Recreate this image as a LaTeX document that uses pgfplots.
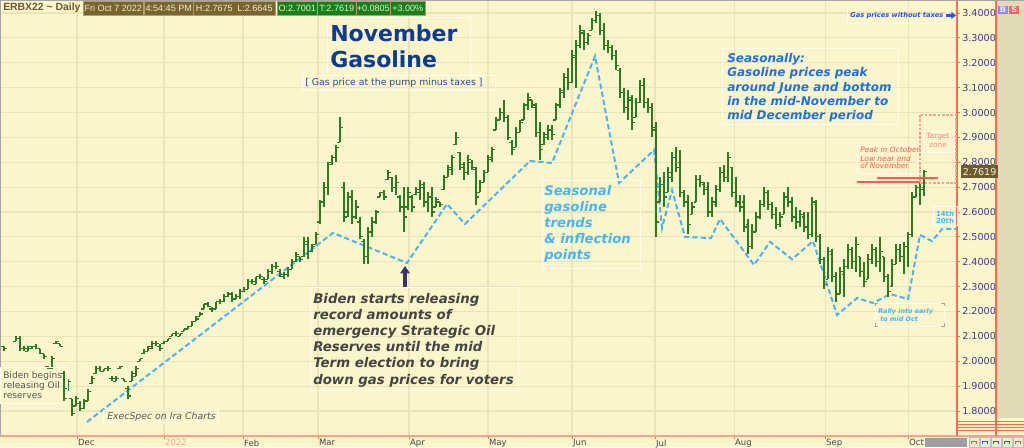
\documentclass[border=0pt]{standalone}
\usepackage{fontspec}
\setmainfont{DejaVu Sans}
\newfontfamily\lib{Liberation Sans}
\usepackage{pgfplots}
\pgfplotsset{compat=1.18}
\usepackage{pgfplotstable}
\usetikzlibrary{arrows.meta}

\definecolor{bg}{RGB}{250,245,202}
\definecolor{gridc}{RGB}{236,228,184}
\definecolor{barc}{RGB}{44,122,36}
\definecolor{seas}{RGB}{77,179,245}
\definecolor{seastxt}{RGB}{69,181,255}
\definecolor{redax}{RGB}{255,106,85}
\definecolor{salm}{RGB}{245,163,140}
\definecolor{redl}{RGB}{255,90,90}
\definecolor{labc}{RGB}{60,60,140}
\definecolor{monc}{RGB}{70,70,70}
\definecolor{c2022}{RGB}{240,168,152}
\definecolor{titc}{RGB}{13,59,148}
\definecolor{subc}{RGB}{30,78,163}
\definecolor{seablue}{RGB}{31,111,229}
\definecolor{bidc}{RGB}{68,68,68}
\definecolor{grayt}{RGB}{90,90,90}
\definecolor{gasblue}{RGB}{42,85,224}
\definecolor{tagc}{RGB}{110,92,48}
\definecolor{tagtxt}{RGB}{245,240,208}
\definecolor{hdrbox}{RGB}{119,100,47}
\definecolor{hdrline}{RGB}{176,160,112}
\definecolor{hdrtxt}{RGB}{243,236,200}
\definecolor{hdrgreen}{RGB}{23,128,26}
\definecolor{hdrtitle}{RGB}{106,90,42}
\definecolor{panel}{RGB}{224,220,184}
\definecolor{targ}{RGB}{245,138,128}
\definecolor{boxc}{RGB}{255,252,235}

\newcommand{\fs}[1]{\fontsize{#1}{#1}\selectfont}

\pgfdeclareplotmark{otick}{\pgfpathmoveto{\pgfqpoint{-1.9pt}{0pt}}\pgfpathlineto{\pgfqpoint{0pt}{0pt}}\pgfusepathqstroke}
\pgfdeclareplotmark{ctick}{\pgfpathmoveto{\pgfqpoint{0pt}{0pt}}\pgfpathlineto{\pgfqpoint{1.9pt}{0pt}}\pgfusepathqstroke}

\pgfplotstableread{
d h l o c
0 2.07 2.04 2.05 2.06
1 2.06 2.04 2.06 2.05
4 2.10 2.08 2.08 2.09
5 2.10 2.04 2.09 2.05
6 2.06 2.04 2.05 2.05
7 2.06 2.04 2.04 2.06
8 2.06 2.05 2.05 2.06
9 2.07 2.05 2.06 2.05
10 2.05 2.03 2.05 2.03
11 2.03 2.01 2.03 2.02
12 1.98 1.97 1.98 1.97
13 2.02 1.97 1.97 2.01
14 2.08 2.07 2.07 2.08
15 2.07 2.06 2.07 2.06
16 1.96 1.84 1.95 1.85
17 1.93 1.88 1.89 1.92
18 1.85 1.78 1.85 1.79
19 1.86 1.82 1.82 1.85
20 1.84 1.80 1.83 1.81
21 1.85 1.81 1.81 1.84
22 1.89 1.84 1.84 1.88
23 1.94 1.91 1.91 1.93
24 1.98 1.95 1.95 1.97
25 1.98 1.96 1.97 1.96
26 1.97 1.96 1.96 1.97
27 1.98 1.96 1.97 1.97
28 1.94 1.92 1.93 1.93
29 1.94 1.92 1.92 1.93
30 1.98 1.97 1.97 1.98
31 1.93 1.92 1.93 1.92
32 1.90 1.85 1.89 1.86
33 1.96 1.92 1.92 1.95
34 1.98 1.94 1.94 1.97
35 2.01 2.00 2.00 2.01
36 2.05 2.03 2.03 2.04
37 2.06 2.04 2.04 2.06
38 2.08 2.05 2.05 2.07
39 2.08 2.06 2.07 2.07
40 2.07 2.04 2.06 2.05
41 2.08 2.07 2.07 2.08
42 2.09 2.08 2.08 2.09
43 2.11 2.10 2.10 2.11
44 2.12 2.10 2.11 2.11
45 2.11 2.10 2.10 2.11
46 2.13 2.12 2.12 2.13
47 2.14 2.13 2.13 2.14
48 2.16 2.14 2.14 2.16
49 2.18 2.16 2.16 2.17
50 2.20 2.18 2.18 2.19
51 2.23 2.21 2.21 2.23
52 2.24 2.22 2.23 2.22
53 2.22 2.20 2.21 2.21
54 2.24 2.21 2.21 2.24
55 2.25 2.23 2.24 2.24
56 2.27 2.24 2.24 2.26
57 2.28 2.26 2.26 2.27
58 2.28 2.24 2.27 2.25
59 2.27 2.25 2.25 2.26
60 2.29 2.25 2.26 2.28
61 2.30 2.28 2.28 2.29
62 2.33 2.29 2.29 2.32
63 2.33 2.31 2.32 2.32
64 2.34 2.31 2.31 2.34
65 2.35 2.33 2.34 2.34
66 2.34 2.31 2.33 2.32
67 2.37 2.33 2.33 2.36
68 2.39 2.35 2.36 2.38
69 2.40 2.37 2.38 2.38
70 2.37 2.34 2.36 2.35
71 2.36 2.33 2.34 2.35
72 2.38 2.34 2.35 2.37
73 2.41 2.37 2.37 2.40
74 2.44 2.40 2.40 2.43
75 2.42 2.40 2.42 2.41
76 2.50 2.42 2.42 2.48
77 2.50 2.41 2.47 2.44
78 2.47 2.44 2.44 2.46
79 2.52 2.47 2.47 2.51
80 2.65 2.55 2.56 2.64
81 2.72 2.62 2.64 2.70
82 2.80 2.67 2.70 2.79
83 2.83 2.79 2.80 2.82
84 2.87 2.80 2.82 2.86
85 2.98 2.88 2.88 2.94
86 2.72 2.56 2.70 2.58
87 2.68 2.58 2.60 2.66
88 2.69 2.55 2.66 2.58
89 2.65 2.57 2.58 2.62
90 2.58 2.49 2.56 2.50
91 2.49 2.39 2.48 2.42
92 2.54 2.39 2.42 2.52
93 2.58 2.50 2.52 2.56
94 2.61 2.55 2.56 2.60
95 2.68 2.66 2.66 2.68
96 2.69 2.65 2.68 2.66
97 2.77 2.73 2.73 2.76
98 2.74 2.68 2.74 2.70
99 2.75 2.67 2.70 2.72
100 2.67 2.60 2.66 2.62
101 2.70 2.52 2.62 2.58
102 2.70 2.61 2.62 2.68
103 2.67 2.60 2.66 2.62
104 2.70 2.67 2.67 2.69
105 2.73 2.65 2.68 2.71
106 2.72 2.62 2.70 2.64
107 2.68 2.60 2.64 2.66
108 2.70 2.58 2.66 2.60
109 2.66 2.62 2.62 2.65
110 2.64 2.62 2.64 2.63
111 2.75 2.69 2.69 2.74
112 2.79 2.74 2.74 2.78
113 2.83 2.75 2.77 2.82
114 2.92 2.87 2.87 2.90
115 2.84 2.77 2.84 2.79
116 2.80 2.73 2.78 2.76
117 2.83 2.75 2.76 2.81
118 2.81 2.77 2.80 2.78
119 2.78 2.63 2.77 2.66
120 2.73 2.68 2.68 2.72
121 2.77 2.72 2.72 2.76
122 2.83 2.76 2.76 2.82
123 2.86 2.80 2.81 2.85
124 2.98 2.93 2.93 2.97
125 3.02 2.97 2.97 3.00
126 3.05 2.96 3.00 2.98
127 2.99 2.89 2.98 2.90
128 2.89 2.83 2.88 2.85
129 2.94 2.86 2.86 2.92
130 2.97 2.92 2.92 2.96
131 3.04 2.97 2.97 3.03
132 3.08 3.01 3.03 3.06
133 3.05 3.02 3.05 3.03
134 3.04 2.90 3.02 2.92
135 2.96 2.81 2.92 2.85
136 2.92 2.87 2.87 2.91
137 2.95 2.89 2.90 2.93
138 2.95 2.89 2.93 2.91
139 3.04 2.97 2.97 3.03
140 3.10 3.02 3.03 3.09
141 3.16 3.06 3.08 3.14
142 3.18 3.09 3.14 3.12
143 3.25 3.12 3.12 3.23
144 3.29 3.10 3.22 3.27
145 3.35 3.26 3.27 3.33
146 3.33 3.25 3.32 3.28
147 3.32 3.27 3.28 3.31
148 3.38 3.33 3.33 3.37
149 3.41 3.36 3.37 3.39
150 3.40 3.31 3.39 3.33
151 3.36 3.25 3.33 3.27
152 3.29 3.24 3.27 3.26
153 3.27 3.21 3.26 3.23
154 3.25 3.17 3.23 3.19
155 3.18 3.06 3.17 3.08
156 3.10 3.00 3.08 3.02
157 3.09 2.97 3.02 3.06
158 3.07 2.93 3.05 2.96
159 3.06 2.98 2.98 3.04
160 3.13 3.04 3.04 3.11
161 3.14 3.02 3.11 3.04
162 3.06 3.00 3.04 3.02
163 3.04 2.90 3.02 2.93
164 2.96 2.50 2.94 2.56
165 2.74 2.64 2.64 2.71
166 2.76 2.62 2.71 2.66
167 2.78 2.68 2.68 2.76
168 2.84 2.72 2.74 2.82
169 2.86 2.76 2.82 2.78
170 2.85 2.66 2.80 2.68
171 2.69 2.62 2.68 2.64
172 2.67 2.51 2.64 2.55
173 2.64 2.59 2.59 2.62
174 2.75 2.64 2.64 2.73
175 2.75 2.70 2.73 2.72
176 2.72 2.67 2.71 2.69
177 2.72 2.58 2.70 2.60
178 2.66 2.58 2.60 2.64
179 2.71 2.62 2.63 2.69
180 2.78 2.68 2.69 2.76
181 2.79 2.72 2.76 2.74
182 2.84 2.72 2.74 2.82
183 2.78 2.66 2.78 2.68
184 2.74 2.62 2.68 2.64
185 2.67 2.60 2.64 2.62
186 2.67 2.52 2.64 2.54
187 2.57 2.43 2.55 2.46
188 2.55 2.45 2.46 2.52
189 2.60 2.52 2.52 2.58
190 2.65 2.57 2.58 2.63
191 2.70 2.62 2.63 2.68
192 2.69 2.61 2.68 2.63
193 2.64 2.57 2.63 2.59
194 2.62 2.53 2.59 2.55
195 2.60 2.54 2.55 2.58
196 2.68 2.59 2.59 2.66
197 2.70 2.62 2.66 2.64
198 2.66 2.56 2.64 2.58
199 2.62 2.53 2.58 2.56
200 2.61 2.54 2.56 2.59
201 2.60 2.52 2.58 2.54
202 2.60 2.49 2.54 2.51
203 2.66 2.50 2.51 2.64
204 2.65 2.48 2.63 2.50
205 2.51 2.39 2.50 2.41
206 2.42 2.29 2.41 2.31
207 2.46 2.33 2.33 2.44
208 2.45 2.32 2.43 2.34
209 2.36 2.24 2.34 2.27
210 2.38 2.27 2.27 2.36
211 2.41 2.26 2.35 2.38
212 2.47 2.37 2.38 2.45
213 2.46 2.37 2.45 2.40
214 2.50 2.36 2.40 2.47
215 2.42 2.34 2.42 2.36
216 2.40 2.30 2.36 2.32
217 2.43 2.33 2.33 2.41
218 2.47 2.39 2.41 2.45
219 2.46 2.38 2.45 2.40
220 2.50 2.36 2.40 2.44
221 2.42 2.32 2.42 2.34
222 2.35 2.26 2.34 2.28
223 2.41 2.30 2.30 2.39
224 2.47 2.39 2.39 2.45
225 2.47 2.40 2.45 2.42
226 2.48 2.35 2.42 2.46
227 2.52 2.38 2.46 2.51
228 2.68 2.50 2.51 2.66
229 2.71 2.66 2.66 2.70
230 2.72 2.63 2.70 2.69
231 2.7675 2.6645 2.7001 2.7619
}\pricedata

\begin{document}
\begin{tikzpicture}
\useasboundingbox (0,0) rectangle (768pt,335.25pt);
\fill[bg] (0,0) rectangle (768pt,335.25pt);
\begin{axis}[
  at={(0,8.25pt)}, anchor=south west,
  scale only axis, width=717.75pt, height=327pt,
  xmin=0, xmax=239.25, ymin=1.6995, ymax=3.4523,
  axis line style={draw=none},
  grid=major, major grid style={draw=gridc, line width=0.8pt},
  xtick={19.25,41,60.75,79.5,102.25,122,143,163.75,183.5,206.25,227},
  xticklabels={Dec,{\color{c2022}2022},Feb,Mar,Apr,May,Jun,Jul,Aug,Sep,Oct},
  ytick={1.8,1.9,2.0,2.1,2.2,2.3,2.4,2.5,2.6,2.7,2.8,2.9,3.0,3.1,3.2,3.3,3.4},
  xtick pos=bottom, ytick pos=right, yticklabel pos=right,
  tick align=outside, major tick length=2.25pt,
  tick style={draw=redax, line width=0.6pt},
  scaled y ticks=false,
  yticklabel style={/pgf/number format/.cd, fixed, fixed zerofill, precision=4, assume math mode=true, /tikz/.cd,
    anchor=west, inner xsep=0pt, xshift=1.5pt, font=\fs{7.2}, text=labc},
  xticklabel style={anchor=north west, inner xsep=0.6pt, inner ysep=0.2pt, font=\fs{6.4}, text=monc},
]
\addplot[seas, line width=1.5pt, dash pattern=on 4pt off 2.2pt] coordinates {
(21.75,1.756) (83.25,2.516) (101.75,2.395) (111.75,2.632) (116.25,2.552) (132.5,2.805) (138,2.797) (148.75,3.227) (154.75,2.717) (163.5,2.849) (165.5,2.536) (168,2.688) (171.25,2.500) (177.75,2.495) (180,2.572) (188.5,2.387) (192.5,2.480) (198,2.410) (203.25,2.483) (209.25,2.186) (214.25,2.254) (218.25,2.234) (222.5,2.270) (227,2.250) (230,2.508) (233,2.483) (235.5,2.532) (239.25,2.532)};
\addplot[barc, only marks, mark=otick, mark options={line width=0.9pt, barc},
  error bars/.cd, y dir=both, y explicit, error mark=none,
  error bar style={line width=1.1pt, barc}]
  table[x=d, y=o, y error plus expr=\thisrow{h}-\thisrow{o}, y error minus expr=\thisrow{o}-\thisrow{l}] {\pricedata};
\addplot[barc, only marks, mark=ctick, mark options={line width=0.9pt, barc}]
  table[x=d, y=c] {\pricedata};
\addplot[redl, line width=1.2pt] coordinates {(214.25,2.7206) (230,2.7206)};
\addplot[redl, line width=1.2pt] coordinates {(219.25,2.7367) (234.5,2.7367)};
\end{axis}

\begin{scope}[shift={(0,335.25pt)}, x=0.75pt, y=-0.75pt]
% frame lines
\draw[salm, line width=1.2pt] (0,436) -- (1024,436);
\draw[redax, line width=0.9pt] (957,0) -- (957,436);
\fill[panel] (996.5,0) rectangle (1024,418);
\draw[redax, line width=0.9pt] (996,0) -- (996,436);
\foreach \yy in {421,424,427,430} \draw[redax, line width=0.5pt] (957,\yy) -- (1024,\yy);
\draw[gray!70, line width=0.8pt] (0,0.5) -- (1024,0.5);
\draw[gray!70, line width=0.8pt] (0.5,0) -- (0.5,436);
% B S buttons
\node[fill=blue!45!white, text=white, font=\lib\bfseries\fs{6}, inner sep=0pt, minimum width=7.5pt, minimum height=6pt] at (1003,10) {B};
\node[fill=red!60!white, text=white, font=\lib\bfseries\fs{6}, inner sep=0pt, minimum width=7.5pt, minimum height=6pt] at (1014,10) {S};
% bottom right
\fill[gray!75] (925,437.5) rectangle (967,447);
\foreach \bx/\cc in {969/red!70,980/blue!70,991/blue!70,1002/green!60!black,1013/red!70} {
  \draw[gray!50, fill=panel!60!white, line width=0.4pt] (\bx,437.5) rectangle (\bx+10,447);
  \draw[\cc, line width=0.6pt] (\bx+2.5,444) -- (\bx+2.5,441) -- (\bx+7.5,441) -- (\bx+7.5,444);
}
% price tag
\node[fill=tagc, text=tagtxt, font=\fs{7.2}, inner xsep=1.2pt, inner ysep=0pt, minimum height=9.75pt, anchor=west] at (961,171.7) {2.7619};

% header
\tikzset{hb/.style={anchor=west, inner xsep=0pt, inner ysep=0pt, minimum height=10.5pt, font=\lib\fs{6.8}, text=hdrtxt, draw=hdrline, line width=0.4pt}}
\node[anchor=west, inner sep=0pt, font=\lib\bfseries\fs{7.8}, text=hdrtitle] at (3,8) {ERBX22 \textasciitilde{} Daily};
\node[hb, fill=hdrbox, minimum width=45pt] at (83,8) {Fri Oct 7 2022};
\node[hb, fill=hdrbox, minimum width=36.75pt] at (144,8) {4:54:45 PM};
\node[hb, fill=hdrbox, minimum width=61.5pt] at (193,8) {H:2.7675\enspace L:2.6645};
\node[hb, fill=hdrgreen, minimum width=30pt] at (277,8) {O:2.7001};
\node[hb, fill=hdrgreen, minimum width=29.25pt] at (317,8) {T:2.7619};
\node[hb, fill=hdrgreen, minimum width=25.5pt] at (356,8) {+0.0805};
\node[hb, fill=hdrgreen, minimum width=26.25pt] at (390,8) {+3.00\%};

% faint boxes
\draw[boxc, line width=0.6pt] (327,17) rectangle (470,75);
\draw[boxc, line width=0.6pt] (302,75) rectangle (495,90);
\draw[boxc, line width=0.6pt] (722,48) rectangle (898,124);
\draw[boxc, line width=0.6pt] (542,180) rectangle (640,268);
\draw[boxc, line width=0.6pt] (310,287) rectangle (518,390);
\draw[boxc, line width=0.6pt] (0,367) rectangle (67,403);
\draw[boxc, line width=0.6pt] (103,410) rectangle (218,422);
\draw[boxc, line width=0.6pt] (847,9) rectangle (947,23);
\draw[boxc, line width=0.6pt] (857,145) rectangle (920,173);
\draw[boxc, line width=0.6pt] (923,131) rectangle (953,152);
\draw[boxc, line width=0.6pt] (933,206) rectangle (957,225);

% title
\tikzset{t/.style={anchor=base west, inner sep=0pt}}
\node[t, font=\bfseries\fs{16.5}, text=titc] at (330,42) {November};
\node[t, font=\bfseries\fs{16.5}, text=titc] at (330,67.5) {Gasoline};
\node[t, font=\fs{7}, text=subc] at (305,86) {[ Gas price at the pump minus taxes ]};

% seasonally
\node[t, font=\bfseries\itshape\fs{9}, text=seablue] at (727,63) {Seasonally:};
\node[t, font=\bfseries\itshape\fs{9}, text=seablue] at (727,77) {Gasoline prices peak};
\node[t, font=\bfseries\itshape\fs{9}, text=seablue] at (727,91.2) {around June and bottom};
\node[t, font=\bfseries\itshape\fs{9}, text=seablue] at (727,105.4) {in the mid-November to};
\node[t, font=\bfseries\itshape\fs{9}, text=seablue] at (727,119.6) {mid December period};

% seasonal trends
\node[t, font=\bfseries\itshape\fs{9.9}, text=seastxt] at (544,195) {Seasonal};
\node[t, font=\bfseries\itshape\fs{9.9}, text=seastxt] at (544,211) {gasoline};
\node[t, font=\bfseries\itshape\fs{9.9}, text=seastxt] at (544,227) {trends};
\node[t, font=\bfseries\itshape\fs{9.9}, text=seastxt] at (544,243) {\& inflection};
\node[t, font=\bfseries\itshape\fs{9.9}, text=seastxt] at (544,259) {points};

% Biden text
\node[t, font=\bfseries\itshape\fs{10}, text=bidc] at (313,303) {Biden starts releasing};
\node[t, font=\bfseries\itshape\fs{10}, text=bidc] at (313,319.2) {record amounts of};
\node[t, font=\bfseries\itshape\fs{10}, text=bidc] at (313,335.4) {emergency Strategic Oil};
\node[t, font=\bfseries\itshape\fs{10}, text=bidc] at (313,351.6) {Reserves until the mid};
\node[t, font=\bfseries\itshape\fs{10}, text=bidc] at (313,367.8) {Term election to bring};
\node[t, font=\bfseries\itshape\fs{10}, text=bidc] at (313,384) {down gas prices for voters};
\draw[-{Triangle[width=7pt,length=5.5pt]}, line width=2.6pt, draw=bidc!80!blue, fill=bidc!80!blue] (405,287) -- (405,266);

% left annotations
\node[t, font=\fs{6.8}, text=grayt] at (3,378) {Biden begins};
\node[t, font=\fs{6.8}, text=grayt] at (3,388) {releasing Oil};
\node[t, font=\fs{6.8}, text=grayt] at (3,398) {reserves};
\node[t, font=\itshape\fs{7}, text=grayt] at (107,419) {ExecSpec on Ira Charts};

% right annotations
\node[t, font=\bfseries\itshape\fs{5}, text=gasblue] at (850,18) {Gas prices without taxes};
\draw[-{Triangle[width=5pt,length=3.5pt]}, line width=2pt, gasblue] (946,15.5) -- (956,15.5);
\node[t, font=\itshape\fs{5.6}, text=redl] at (860,153) {Peak in October};
\node[t, font=\itshape\fs{5.6}, text=redl] at (860,161) {Low near end};
\node[t, font=\itshape\fs{5.6}, text=redl] at (860,169) {of November};
\node[anchor=base, inner sep=0pt, font=\fs{5.5}, text=targ] at (938,139) {Target};
\node[anchor=base, inner sep=0pt, font=\fs{5.5}, text=targ] at (938,147.5) {zone};
\draw[salm, line width=0.8pt, dash pattern=on 2pt off 1.2pt] (920,115) rectangle (956,183);
\node[anchor=base, inner sep=0pt, font=\bfseries\fs{5.2}, text=seastxt] at (945,216) {14th};
\node[anchor=base, inner sep=0pt, font=\bfseries\fs{5.2}, text=seastxt] at (945,223.5) {20th};
\node[t, font=\bfseries\itshape\fs{4.8}, text=seastxt] at (878,313) {Rally into early};
\node[t, font=\bfseries\itshape\fs{4.8}, text=seastxt] at (880,321.5) {to mid Oct};
\draw[boxc, line width=0.6pt] (875,303) rectangle (944,326);
\draw[gray!70, line width=0.5pt] (875,306) -- (875,303) -- (878,303);
\draw[gray!70, line width=0.5pt] (941,303) -- (944,303) -- (944,306);
\draw[gray!70, line width=0.5pt] (875,323) -- (875,326) -- (878,326);
\draw[gray!70, line width=0.5pt] (941,326) -- (944,326) -- (944,323);
\end{scope}
\end{tikzpicture}
\end{document}
